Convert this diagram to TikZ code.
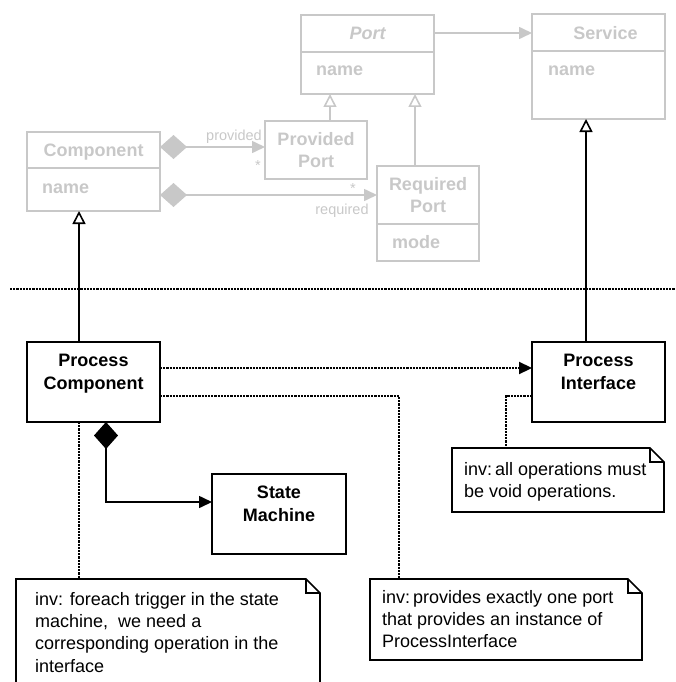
\documentclass[tikz,border=0pt]{standalone}
\usepackage{fontspec}
\setmainfont{Liberation Sans}
\usetikzlibrary{arrows.meta}
\definecolor{faded}{RGB}{200,200,200}

\tikzset{
  cls/.style={draw, line width=1.6pt, inner sep=0pt, outer sep=0pt, anchor=north west, minimum width=133pt},
  old/.style={draw=faded, text=faded},
  clsname/.style={font=\bfseries\fontsize{18}{22.5}\selectfont, align=center, anchor=north, inner sep=0pt},
  attr/.style={font=\bfseries\fontsize{18}{22}\selectfont, anchor=base west, inner sep=0pt, text=faded},
  role/.style={font=\fontsize{14.5}{16}\selectfont, anchor=base, inner sep=0pt, text=faded},
  notebox/.style={inner sep=0pt, outer sep=0pt, anchor=north west},
  notetext/.style={font=\fontsize{18}{22.3}\selectfont, align=left, anchor=north west, inner sep=0pt},
  dots/.style={line width=2.2pt, dash pattern=on 2.2pt off 1pt},
  genarrow/.style={line width=1.6pt, -{Triangle[open, width=13pt, length=13pt]}},
  comparrow/.style={line width=1.6pt, {Diamond[width=24pt, length=27pt]}-{Triangle[width=12pt, length=13pt]}},
  assoc/.style={-{Triangle[width=12pt, length=13pt]}},
}

\newcommand{\dogear}[1]{%
  \draw[line width=1.6pt] (#1.north west) -- ([xshift=-14pt]#1.north east)
    -- ([yshift=-14pt]#1.north east) -- (#1.south east) -- (#1.south west) -- cycle;
  \draw[line width=1.6pt] ([xshift=-14pt]#1.north east) |- ([yshift=-14pt]#1.north east);}

\begin{document}
\begin{tikzpicture}[x=1pt,y=-1pt,line join=miter]
  \useasboundingbox (0,0) rectangle (675,682);
  \clip (0,0) rectangle (675,682);

  % metamodel, greyed out
  \node[cls, old, minimum height=79pt] (port) at (301,15) {};
  \node[cls, old, minimum height=105pt] (service) at (532,14) {};
  \node[cls, old, minimum height=79pt] (comp) at (27,132) {};
  \node[cls, old, minimum width=102pt, minimum height=58pt] (provport) at (265,121) {};
  \node[cls, old, minimum width=102pt, minimum height=95pt] (reqport) at (377,166) {};
  \foreach \b/\d in {port/37, service/37, comp/36, reqport/58}
    \draw[faded, line width=1.6pt] ([yshift=-\d pt]\b.north west) -- ([yshift=-\d pt]\b.north east);

  \node[clsname, text=faded] (porttitle) at ([yshift=-12pt]port.north) {\itshape Port};
  \node[attr] (portattr) at ([xshift=15pt,yshift=-61pt]port.north west) {name};
  \node[clsname, text=faded] (servicetitle) at ([xshift=7pt,yshift=-12pt]service.north) {Service};
  \node[attr] (serviceattr) at ([xshift=16pt,yshift=-62pt]service.north west) {name};
  \node[clsname, text=faded] (comptitle) at ([yshift=-12pt]comp.north) {Component};
  \node[attr] (compattr) at ([xshift=15pt,yshift=-61pt]comp.north west) {name};
  \node[clsname, text=faded] (provtitle) at ([yshift=-11pt]provport.north) {Provided\\Port};
  \node[clsname, text=faded] (reqtitle) at ([yshift=-11pt]reqport.north) {Required\\Port};
  \node[attr] (reqattr) at ([xshift=15pt,yshift=-82pt]reqport.north west) {mode};

  \coordinate (a1) at ([yshift=-18pt]port.north east);
  \draw[faded, line width=1.6pt, assoc] (a1) -- (a1 -| service.west);
  \coordinate (g1) at ([xshift=65pt]provport.north west);
  \draw[faded, genarrow] (g1) -- (g1 |- port.south);
  \coordinate (g2) at ([xshift=38pt]reqport.north west);
  \draw[faded, genarrow] (g2) -- (g2 |- port.south);
  \coordinate (c1) at ([yshift=-15pt]comp.north east);
  \draw[faded, comparrow] (c1) -- (c1 -| provport.west);
  \coordinate (c2) at ([yshift=-63pt]comp.north east);
  \draw[faded, comparrow] (c2) -- (c2 -| reqport.west);

  \node[role] (provrole) at (234,140) {provided};
  \node[role] (provmult) at (258,170) {*};
  \node[role] (reqmult) at (353,193) {*};
  \node[role] (reqrole) at (342,214) {required};

  \draw[dots] (10,289) -- (675,289);

  % model
  \node[cls, minimum height=80pt] (pc) at (27,342) {};
  \node[cls, minimum height=80pt] (pi) at (532,342) {};
  \node[cls, minimum width=134pt, minimum height=80pt] (sm) at (212,474) {};
  \node[clsname] (pctitle) at ([yshift=-12pt]pc.north) {Process\\Component};
  \node[clsname] (pititle) at ([yshift=-12pt]pi.north) {Process\\Interface};
  \node[clsname] (smtitle) at ([yshift=-12pt]sm.north) {State\\Machine};

  \node[notebox, minimum width=212pt, minimum height=64pt] (note1) at (452,448) {};
  \node[notebox, minimum width=272pt, minimum height=81pt] (note3) at (370,579) {};
  \node[notebox, minimum width=304pt, minimum height=130pt] (note2) at (16,579) {};
  \foreach \n in {note1,note2,note3} {\dogear{\n}}
  \node[notetext] (note1text) at ([xshift=12pt,yshift=-14pt]note1.north west)
    {inv:\,all operations must\\be void operations.};
  \node[notetext] (note3text) at ([xshift=12pt,yshift=-11pt]note3.north west)
    {inv:\,provides exactly one port\\that provides an instance of\\ProcessInterface};
  \node[notetext] (note2text) at ([xshift=19pt,yshift=-13pt]note2.north west)
    {inv: foreach trigger in the state\\machine, \ we need a\\corresponding operation in the\\interface};

  \coordinate (g3) at ([xshift=52pt]pc.north west);
  \draw[genarrow] (g3) -- (g3 |- comp.south);
  \coordinate (g4) at ([xshift=54pt]pi.north west);
  \draw[genarrow] (g4) -- (g4 |- service.south);
  \coordinate (d1) at ([yshift=-26pt]pc.north east);
  \draw[dots, assoc] (d1) -- (d1 -| pi.west);
  \coordinate (d2) at ([yshift=-54pt]pc.north east);
  \coordinate (d3) at ([xshift=29pt]note3.north west);
  \draw[dots] (d2) -| (d3);
  \coordinate (d4) at ([yshift=-54pt]pi.north west);
  \coordinate (d5) at ([xshift=54pt]note1.north west);
  \draw[dots] (d4) -| (d5);
  \coordinate (d6) at ([xshift=52pt]pc.south west);
  \draw[dots] (d6) -- (d6 |- note2.north);
  \coordinate (k1) at ([xshift=79pt]pc.south west);
  \coordinate (k2) at ([yshift=-28pt]sm.north west);
  \draw[comparrow] (k1) |- (k2);
\end{tikzpicture}
\end{document}
